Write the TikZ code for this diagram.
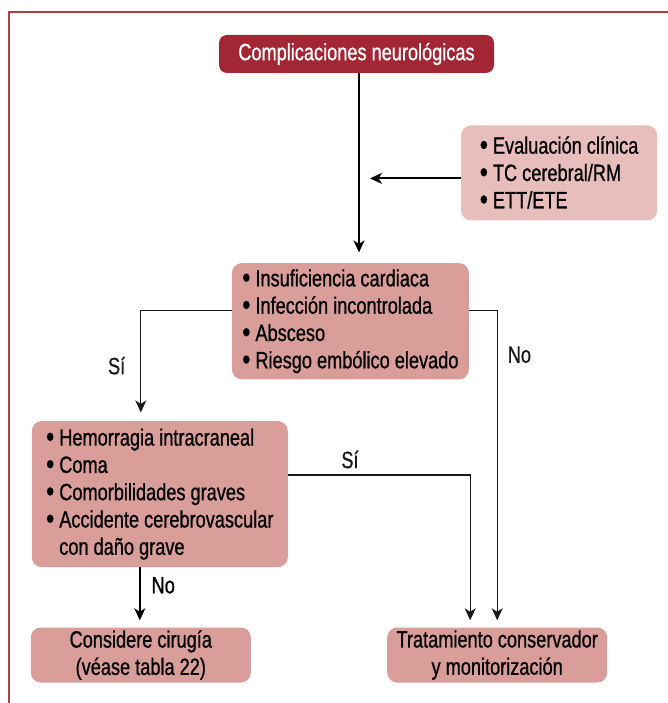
\documentclass[tikz,border=0pt]{standalone}
\usepackage{fontspec}
\setmainfont{Liberation Sans}[FakeStretch=0.77, FakeBold=0.8]
\usepackage{tikz}
\usetikzlibrary{arrows.meta, shapes, positioning, calc}

\definecolor{topred}{RGB}{163,38,52}
\definecolor{critpink}{RGB}{217,158,154}
\definecolor{evalpink}{RGB}{232,190,188}
\definecolor{framered}{RGB}{180,60,70}

\newcommand{\bul}{\raisebox{-1.2pt}{\fontsize{30}{0}\selectfont•}\ }

\begin{document}
\begin{tikzpicture}[
    x=1pt, y=1pt,
    title/.style={rectangle, rounded corners=8pt, fill=topred, text=white, minimum width=275pt, minimum height=38pt, inner sep=0pt, font=\fontsize{23.6}{27.3}\selectfont},
    box/.style={rectangle, rounded corners=10pt, fill=critpink, align=left, inner sep=0pt, font=\fontsize{23.6}{27.3}\selectfont},
    result/.style={rectangle, rounded corners=10pt, fill=critpink, align=center, minimum width=220pt, minimum height=55pt, inner sep=0pt, font=\fontsize{23.6}{27.3}\selectfont},
    arrow/.style={-{Stealth[length=12pt, width=11pt, inset=3.5pt]}, line width=1.8pt},
    branch/.style={-{Stealth[length=12pt, width=11pt, inset=3.5pt]}, line width=1.2pt, black!90},
    lbl/.style={inner sep=2pt, font=\fontsize{23.6}{27.3}\selectfont},
    frame/.style={draw=framered, line width=1.4pt}
]
\useasboundingbox (0,0) rectangle (668,-703);
\draw[frame] (9,-703) -- (9,-12) -- (668,-12);

% Start
\node[title] at (356.5,-54) (top) {Complicaciones neurológicas};

% Criteria
\node[box, minimum width=237pt, minimum height=116.3pt, below=189.7pt of top, xshift=-6.1pt] (crit) {%
    \bul Insuficiencia cardiaca\\
    \bul Infección incontrolada\\
    \bul Absceso\\
    \bul Riesgo embólico elevado};

% Evaluation
\node[box, fill=evalpink, minimum width=196pt, minimum height=95pt, below right=52pt and -33.3pt of top] (eval) {%
    \bul Evaluación clínica\\
    \bul TC cerebral/RM\\
    \bul ETT/ETE};

% Contraindications
\node[box, minimum width=256pt, minimum height=146pt, below left=41.3pt and -56.3pt of crit] (bleed) {%
    \bul Hemorragia intracraneal\\
    \bul Coma\\
    \bul Comorbilidades graves\\
    \bul Accidente cerebrovascular\\
    \phantom{\bul}con daño grave};

% Outcomes
\node[result, below=60pt of bleed, xshift=-19pt] (surg) {Considere cirugía\\(véase tabla 22)};
\node[result, right=136pt of surg] (cons) {Tratamiento conservador\\y monitorización};

% Helper points
\coordinate (trunk) at ([xshift=2.5pt]top.south);
\coordinate (evalin) at ([yshift=-5.5pt]eval.west);
\coordinate (critl) at ([yshift=10.85pt]crit.west);
\coordinate (critr) at ([yshift=10.85pt]crit.east);
\coordinate (bleedr) at ([yshift=19.2pt]bleed.east);
\coordinate (bleedb) at ([xshift=-20pt]bleed.south);

% Arrow Connections
\draw[arrow, shorten >=10.5pt] (trunk) -- (trunk |- crit.north);
\draw[arrow, shorten >=11pt] (evalin) -- (trunk |- evalin);
\draw[branch, shorten >=8.5pt] (critl) -| node[lbl, left=13pt, pos=0.75] {Sí} ([xshift=-19pt]bleed.north);
\draw[branch, shorten >=7pt] (critr) -| node[lbl, right=8pt, pos=0.57] {No} (cons.north);
\draw[branch, shorten >=7pt] (bleedr) -| node[lbl, above=4pt, pos=0.17] {Sí} ([xshift=-27pt]cons.north);
\draw[arrow, line width=1.6pt, shorten >=7pt] (bleedb) -- node[lbl, right=9pt, pos=0.3] {No} (bleedb |- surg.north);
\end{tikzpicture}
\end{document}
